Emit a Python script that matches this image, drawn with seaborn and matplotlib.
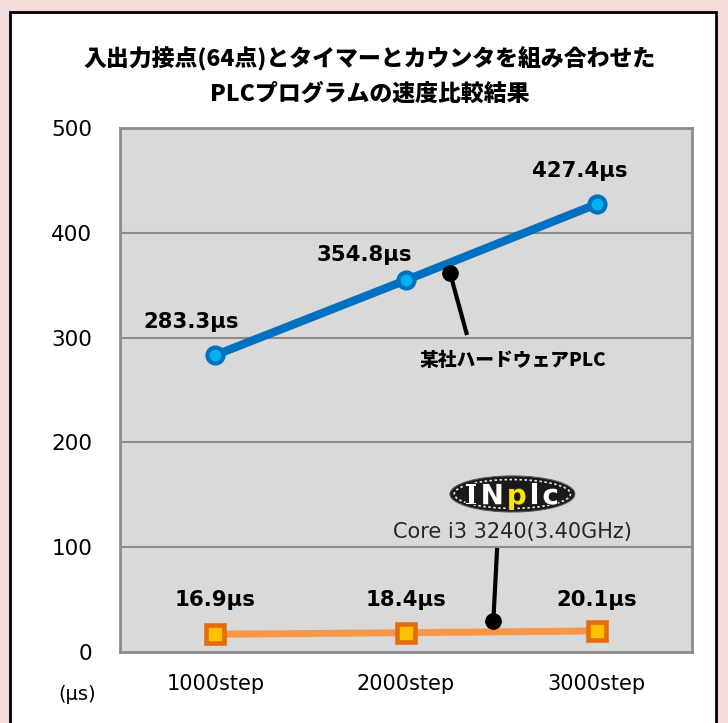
import matplotlib
matplotlib.use("Agg")
import matplotlib.pyplot as plt
import matplotlib.patheffects as pe
import seaborn as sns
import pandas as pd
from matplotlib.patches import Rectangle, Ellipse

categories = ["1000step", "2000step", "3000step"]
hw_values = [283.3, 354.8, 427.4]
inplc_values = [16.9, 18.4, 20.1]
hw_labels = ["283.3μs", "354.8μs", "427.4μs"]
inplc_labels = ["16.9μs", "18.4μs", "20.1μs"]
y_ticks = [0, 100, 200, 300, 400, 500]
title = "入出力接点(64点)とタイマーとカウンタを組み合わせた\nPLCプログラムの速度比較結果"
hw_name = "某社ハードウェアPLC"
inplc_name = "Core i3 3240(3.40GHz)"
logo_letters = ["I", "N", "p", "l", "c"]

sns.set_theme(style="white")
plt.rcParams['font.family'] = ['DejaVu Sans', 'Noto Sans CJK JP']
plt.rcParams['text.color'] = 'black'
plt.rcParams['xtick.color'] = 'black'
plt.rcParams['ytick.color'] = 'black'

fig = plt.figure(figsize=(7.28, 7.23), dpi=100)
fig.patch.set_facecolor("#f2dcdb")
# white panel with black frame
fig.patches.append(Rectangle((10 / 728, -0.05), 706 / 728, 1 - 12 / 723 + 0.05,
                             transform=fig.transFigure, facecolor="white",
                             edgecolor="black", linewidth=2, zorder=-5))

ax = fig.add_axes([120 / 728, 1 - 652 / 723, 572 / 728, 524 / 723])
ax.set_zorder(2)
ax.set_facecolor("#d9d9d9")

df = pd.DataFrame({
    "step": categories * 2,
    "value": hw_values + inplc_values,
    "series": ["hw"] * 3 + ["inplc"] * 3,
})

sns.lineplot(data=df[df.series == "hw"], x="step", y="value", ax=ax,
             color="#0070c0", linewidth=6, marker="o", markersize=11.5,
             markerfacecolor="#00b0f0", markeredgecolor="#0070c0",
             markeredgewidth=3, zorder=5)
sns.lineplot(data=df[df.series == "inplc"], x="step", y="value", ax=ax,
             color="#f79646", linewidth=5, marker="s", markersize=13,
             markerfacecolor="#ffc000", markeredgecolor="#e46c0a",
             markeredgewidth=3.3, zorder=5)
for ln in ax.lines:
    ln.set_solid_joinstyle("round")

ax.set_xlim(-0.5, 2.5)
ax.set_ylim(0, 500)
ax.set_yticks(y_ticks)
ax.set_yticklabels([str(v) for v in y_ticks], fontsize=15.5)
ax.set_xticks(range(len(categories)))
ax.set_xticklabels(categories, fontsize=15)
ax.tick_params(axis="y", length=0, pad=20)
ax.tick_params(axis="x", length=0, pad=16)
ax.set_xlabel("")
ax.set_ylabel("")
for v in y_ticks[1:-1]:
    ax.axhline(v, color="#8c8c8c", linewidth=1.5, zorder=1)
for s in ax.spines.values():
    s.set_color("#8c8c8c")
    s.set_linewidth(2)

# data labels
hw_label_pos = [(-0.125, 315), (0.783, 379), (1.91, 459)]
for (lx, ly), t in zip(hw_label_pos, hw_labels):
    ax.text(lx, ly, t, ha="center", va="center", fontsize=15.3,
            fontweight="bold", zorder=6)
for i, t in enumerate(inplc_labels):
    ax.text(i, 50, t, ha="center", va="center", fontsize=15.3,
            fontweight="bold", zorder=6)

# leader lines
ax.plot([1.231, 1.320], [361.6, 302.5], color="black", linewidth=3, zorder=7,
        solid_capstyle="butt")
ax.plot([1.231], [361.6], "o", color="black", markersize=11, zorder=7)
ax.plot([1.478, 1.458], [99.2, 29.5], color="black", linewidth=3, zorder=7,
        solid_capstyle="butt")
ax.plot([1.458], [29.5], "o", color="black", markersize=11, zorder=7)

ax.text(1.558, 278.6, hw_name, ha="center", va="center", fontsize=13.5,
        fontweight="heavy", family=["Noto Sans CJK JP", "DejaVu Sans"], zorder=6)
ax.text(1.558, 114.5, inplc_name, ha="center", va="center", fontsize=15,
        color="#262626", zorder=6)

# INplc logo
ax.add_patch(Ellipse((1.558, 150.8), 0.655, 34.4, facecolor="#1a1a1a",
                     edgecolor="#555555", linewidth=0.8, zorder=6))
ax.add_patch(Ellipse((1.558, 150.8), 0.61, 27.5, facecolor="none", edgecolor="#e8e8e8",
                     linestyle=(0, (1.5, 1.5)), linewidth=1.2, zorder=7))
logo_colors = ["white", "white", "#ffe600", "white", "white"]
stroke = [pe.withStroke(linewidth=1.5, foreground="#222222")]
prev = None
for ch, col in zip(logo_letters, logo_colors):
    fam = "DejaVu Serif" if ch == "I" else "DejaVu Sans"
    if prev is None:
        prev = ax.text(1.308, 141, ch, ha="left", va="baseline", fontsize=20,
                       fontweight="bold", family=fam, color=col, zorder=8,
                       path_effects=stroke)
    else:
        prev = ax.annotate(ch, xy=(1, 0), xycoords=prev, xytext=(2.2, 0),
                           textcoords="offset points", ha="left", va="bottom",
                           fontsize=20, fontweight="bold", family=fam, color=col,
                           zorder=8, path_effects=stroke)

fig.text(370 / 728, 1 - 76 / 723, title, ha="center", va="center", fontsize=16.5,
         fontweight="heavy", family=["Noto Sans CJK JP", "DejaVu Sans"], linespacing=1.7)
fig.text(77 / 728, 1 - 694 / 723, "(μs)", ha="center", va="center", fontsize=14)

fig.savefig("out.png", dpi=100, facecolor=fig.get_facecolor())
